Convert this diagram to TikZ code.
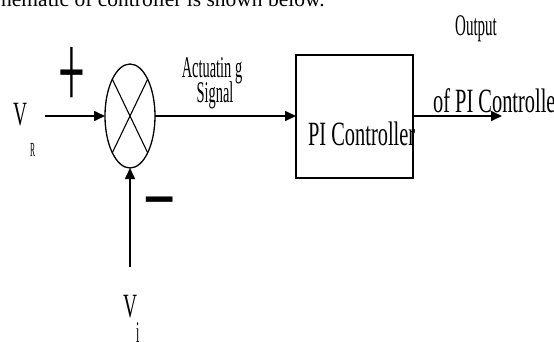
\documentclass[tikz,border=0pt]{standalone}
\usepackage{fontspec}
\setmainfont{Liberation Serif}
\usetikzlibrary{shapes.geometric, arrows.meta, positioning}

\tikzset{
  sig/.style={-{Triangle[length=11pt,width=10pt]}, line width=1.6pt},
  lbl/.style={inner sep=0pt, anchor=base west},
  sign/.style={inner sep=0pt, font=\fontsize{108}{108}\selectfont},
}

\begin{document}
\begin{tikzpicture}[x=1pt, y=-1pt]
    \path[use as bounding box, fill=white] (0,0) rectangle (554,341);
    \node[lbl, font=\fontsize{21.5}{24}\selectfont] (intro) at (1,6) {hematic of controller is shown below.};

    % summing junction and controller block
    \node[ellipse, draw, line width=1.3pt, minimum width=50pt, minimum height=104pt, inner sep=0pt, outer sep=0pt] (sum) at (130,116) {};
    \draw[line width=1.1pt] (sum.north east) -- (sum.south west);
    \draw[line width=1.1pt] (sum.north west) -- (sum.south east);
    \node[draw, line width=2pt, minimum width=117pt, minimum height=123pt, inner sep=0pt, outer sep=0pt, right=141pt of sum] (pi) {};

    \coordinate[left=60pt of sum] (vin);
    \coordinate[below=99pt of sum] (vfb);
    \coordinate[right=89pt of pi] (vout);

    % labels
    \node[lbl, font=\fontsize{34}{36}\selectfont, xscale=0.57] (vr) at (13,125) {V};
    \node[lbl, font=\fontsize{20}{22}\selectfont, xscale=0.38] (vrsub) at (30,156) {R};
    \node[lbl, font=\fontsize{34}{36}\selectfont, xscale=0.57] (vi) at (123,317) {V};
    \node[lbl, font=\fontsize{30}{32}\selectfont, xscale=0.4] (visub) at (136,342) {i};
    \node[sign, xscale=0.44] (plus) at (72,77.5) {+};
    \node[sign, xscale=0.53] (minus) at (159.5,216) {−};
    \node[lbl, anchor=base, font=\fontsize{30}{32}\selectfont, xscale=0.48] (act) at (212,77) {Actuatin g};
    \node[lbl, anchor=base, font=\fontsize{30}{32}\selectfont, xscale=0.48] (actsig) at (215,102) {Signal};
    \node[lbl, anchor=base, font=\fontsize{30}{32}\selectfont, xscale=0.5] (outtop) at (476,35) {Output};
    \node[lbl, font=\fontsize{34}{36}\selectfont, xscale=0.6] (outbot) at (433,112) {of PI Controller};
    \node[lbl, font=\fontsize{34}{36}\selectfont, xscale=0.6] (pitext) at (308,145) {PI Controller};

    \draw[sig] (vin) -- (sum);
    \draw[sig] (vfb) -- (sum);
    \draw[sig] (sum) -- (pi);
    \draw[sig] (pi) -- (vout);
\end{tikzpicture}
\end{document}
